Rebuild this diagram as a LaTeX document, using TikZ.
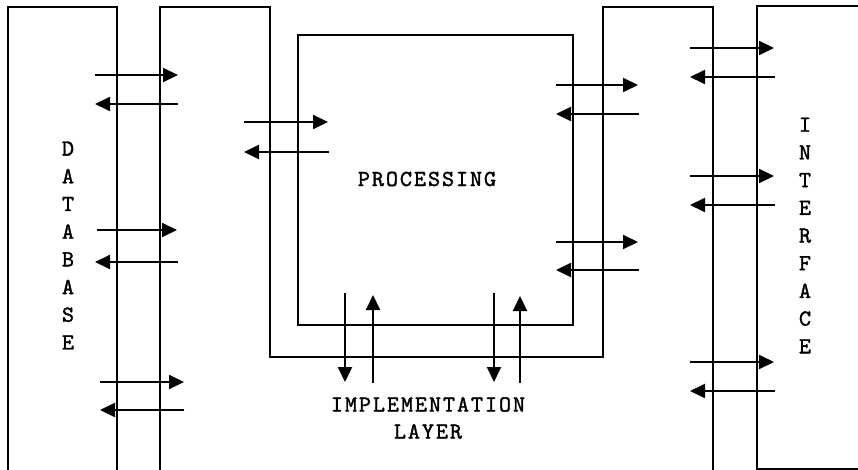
\documentclass[tikz,border=0pt]{standalone}
\usepackage{fontspec}
\usepackage{tikz}
\usetikzlibrary{arrows.meta}
\newfontfamily\layerfont{lmmono10-regular.otf}[LetterSpace=8.4, FakeBold=1.5]

\tikzset{
  wall/.style={black, line width=2.2pt},
  flow/.style={black, line width=2pt, -{Triangle[length=15pt, width=14pt]}},
  tag/.style={font=\layerfont\fontsize{23}{27.7}\selectfont, align=center, inner sep=0pt}
}

\begin{document}
\begin{tikzpicture}[x=1pt, y=-1pt]
			\useasboundingbox (0,0) rectangle (858,470);

			% --- Blocks ---
			% Database (open at the bottom)
			\draw[wall] (8,470) -- (8,7) -- (117,7) -- (117,470);

			% Implementation layer wrapped round the processing block
			\draw[wall] (160,470) -- (160,7) -- (270,7) -- (270,357)
				-- (603,357) -- (603,7) -- (713,7) -- (713,470);

			% Processing
			\draw[wall] (298,35) rectangle (573,325);

			% Interface (runs off to the right)
			\draw[wall] (858,6) -- (757,6) -- (757,469) -- (858,469);

			% --- Labels ---
			\node[tag] (database) at (68,245.5) {D\\A\\T\\A\\B\\A\\S\\E};
			\node[tag] (interface) at (805,235.5) {I\\N\\T\\E\\R\\F\\A\\C\\E};
			\node[tag] (processing) at (427,179) {PROCESSING};
			\node[tag, font=\layerfont\fontsize{23}{27}\selectfont] (impl) at (428,418) {IMPLEMENTATION\\LAYER};

			% --- Database <-> implementation layer ---
			\draw[flow] (95,75) -- (178,75);
			\draw[flow] (178,104) -- (95,104);
			\draw[flow] (97,230) -- (177,230);
			\draw[flow] (178,262) -- (95,262);
			\draw[flow] (100,382) -- (184,382);
			\draw[flow] (184,410) -- (100,410);

			% --- Implementation layer <-> processing ---
			\draw[flow] (244,122) -- (328,122);
			\draw[flow] (329,152) -- (244,152);
			\draw[flow] (556,85) -- (638,85);
			\draw[flow] (639,114) -- (556,114);
			\draw[flow] (556,242) -- (638,242);
			\draw[flow] (639,270) -- (556,270);

			% Bottom, vertical
			\draw[flow] (345,293) -- (345,382);
			\draw[flow] (373,383) -- (373,295);
			\draw[flow] (494,293) -- (494,382);
			\draw[flow] (520,383) -- (520,296);

			% --- Implementation layer <-> interface ---
			\draw[flow] (690,48) -- (774,48);
			\draw[flow] (775,77) -- (690,77);
			\draw[flow] (690,176) -- (774,176);
			\draw[flow] (775,205) -- (690,205);
			\draw[flow] (690,362) -- (774,362);
			\draw[flow] (775,391) -- (690,391);
		\end{tikzpicture}
\end{document}
